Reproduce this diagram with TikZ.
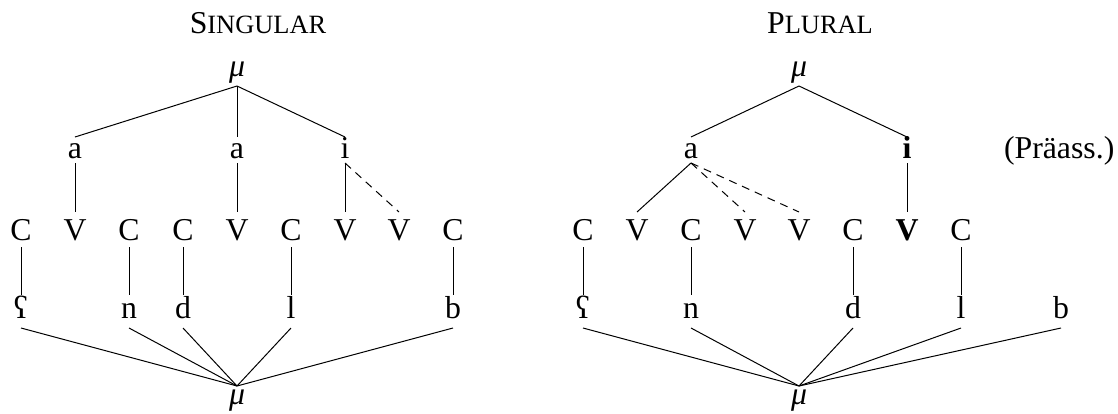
\documentclass[tikz,border=0pt]{standalone}
\usepackage{fontspec}
\setmainfont{Liberation Serif}
\begin{document}
\begin{tikzpicture}[x=0.5pt,y=-0.5pt,
  every node/.style={inner sep=0pt,outer sep=0pt,anchor=base,font=\fontsize{15.9}{18}\selectfont},
  mutop/.style={text height=5pt,text depth=5pt},
  vrow/.style={text height=10.5pt,text depth=2.5pt},
  cvrow/.style={text height=14pt,text depth=3.5pt},
  segrow/.style={text height=11.5pt,text depth=5pt},
  mubot/.style={text height=9pt,text depth=1pt},
  ln/.style={line width=0.5pt},
  dl/.style={line width=0.5pt,dash pattern=on 4pt off 3pt}]
\useasboundingbox (0,0) rectangle (1118,413);
% titles
\node (t1) at (258,33) {S{\fontsize{13.2}{15}\selectfont INGULAR}};
\node (t2) at (820,33) {P{\fontsize{13.2}{15}\selectfont LURAL}};
\node[anchor=base west] (pr) at (1004,158) {(Präass.)};
% ---------- Singular
\node[mutop] (sm) at (237,76) {\itshape μ};
\node[vrow] (sa1) at (75,158) {a};
\node[vrow] (sa2) at (237,158) {a};
\node[vrow] (si) at (345,158) {i};
\node[cvrow] (s1) at (21,240) {C};
\node[cvrow] (s2) at (75,240) {V};
\node[cvrow] (s3) at (129,240) {C};
\node[cvrow] (s4) at (183,240) {C};
\node[cvrow] (s5) at (237,240) {V};
\node[cvrow] (s6) at (291,240) {C};
\node[cvrow] (s7) at (345,240) {V};
\node[cvrow] (s8) at (399,240) {V};
\node[cvrow] (s9) at (453,240) {C};
\node[segrow] (sg1) at (21,318) {ʕ};
\node[segrow] (sg2) at (129,318) {n};
\node[segrow] (sg3) at (183,318) {d};
\node[segrow] (sg4) at (291,318) {l};
\node[segrow] (sg5) at (453,318) {b};
\node[mubot] (sb) at (237,404) {\itshape μ};
\draw[ln] (sm.south) -- (sa1.north);
\draw[ln] (sm.south) -- (sa2.north);
\draw[ln] (sm.south) -- (si.north);
\draw[ln] (sa1.south) -- (s2.north);
\draw[ln] (sa2.south) -- (s5.north);
\draw[ln] (si.south) -- (s7.north);
\draw[dl] (si.south) -- (s8.north);
\draw[ln] (s1.south) -- (sg1.north);
\draw[ln] (s3.south) -- (sg2.north);
\draw[ln] (s4.south) -- (sg3.north);
\draw[ln] (s6.south) -- (sg4.north);
\draw[ln] (s9.south) -- (sg5.north);
\foreach \n in {sg1,sg2,sg3,sg4,sg5} \draw[ln] (\n.south) -- (sb.north);
% ---------- Plural
\node[mutop] (pm) at (799,76) {\itshape μ};
\node[vrow] (pa) at (691,158) {a};
\node[vrow] (pi) at (907,158) {\bfseries i};
\node[cvrow] (p1) at (583,240) {C};
\node[cvrow] (p2) at (637,240) {V};
\node[cvrow] (p3) at (691,240) {C};
\node[cvrow] (p4) at (745,240) {V};
\node[cvrow] (p5) at (799,240) {V};
\node[cvrow] (p6) at (853,240) {C};
\node[cvrow] (p7) at (907,240) {\bfseries V};
\node[cvrow] (p8) at (961,240) {C};
\node[segrow] (pg1) at (583,318) {ʕ};
\node[segrow] (pg2) at (691,318) {n};
\node[segrow] (pg3) at (853,318) {d};
\node[segrow] (pg4) at (961,318) {l};
\node[segrow] (pg5) at (1061,318) {b};
\node[mubot] (pb) at (799,404) {\itshape μ};
\draw[ln] (pm.south) -- (pa.north);
\draw[ln] (pm.south) -- (pi.north);
\draw[ln] (pa.south) -- (p2.north);
\draw[dl] (pa.south) -- (p4.north);
\draw[dl] (pa.south) -- (p5.north);
\draw[ln] (pi.south) -- (p7.north);
\draw[ln] (p1.south) -- (pg1.north);
\draw[ln] (p3.south) -- (pg2.north);
\draw[ln] (p6.south) -- (pg3.north);
\draw[ln] (p8.south) -- (pg4.north);
\foreach \n in {pg1,pg2,pg3,pg4,pg5} \draw[ln] (\n.south) -- (pb.north);
\end{tikzpicture}
\end{document}
